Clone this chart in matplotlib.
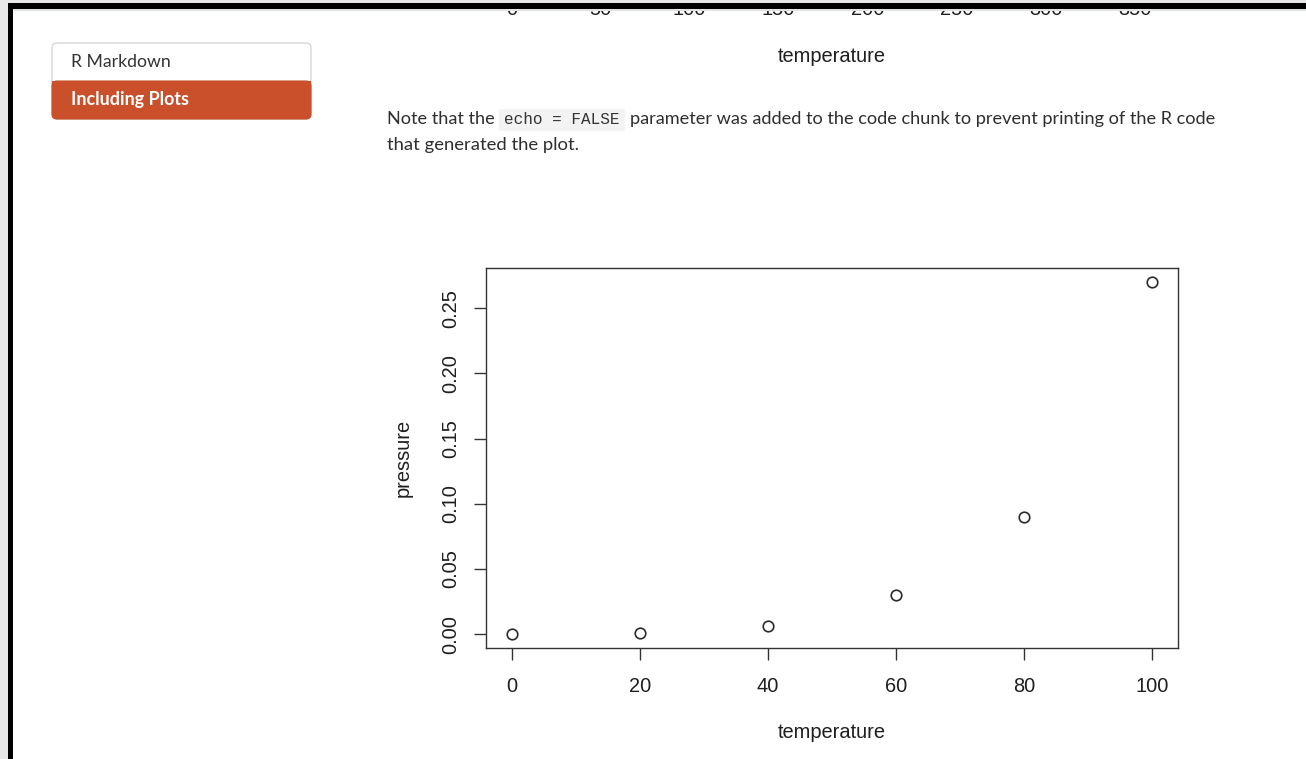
import matplotlib
matplotlib.use('Agg')
import matplotlib.pyplot as plt
import matplotlib.transforms as mtransforms
from matplotlib.patches import Rectangle, FancyBboxPatch

# R "pressure" data, subset temperature <= 100
temperature = [0, 20, 40, 60, 80, 100]
pressure = [0.0002, 0.0012, 0.0060, 0.0300, 0.0900, 0.2700]

# previous (full) plot, only its x tick labels show at the top
temperature_full = [0, 20, 40, 60, 80, 100, 120, 140, 160, 180, 200, 220, 240,
                    260, 280, 300, 320, 340, 360]
top_ticks = [0, 50, 100, 150, 200, 250, 300, 350]
y_ticks = [0.00, 0.05, 0.10, 0.15, 0.20, 0.25]

W, H = 1306, 759
fig = plt.figure(figsize=(W / 100, H / 100), dpi=100)
fig.patch.set_facecolor('white')
renderer = fig.canvas.get_renderer()

# pixel coords measured from the top-left corner
px = mtransforms.Affine2D().scale(1.0 / W, -1.0 / H).translate(0, 1) + fig.transFigure

RFONT = ['Liberation Sans', 'DejaVu Sans']
PAGEFONT = ['Lato', 'DejaVu Sans']
INK = '#1e1e1e'


def rrange(v):
    lo, hi = min(v), max(v)
    d = (hi - lo) * 0.04
    return lo - d, hi + d


def style_axes(ax):
    for s in ax.spines.values():
        s.set_color('#333333')
        s.set_linewidth(1.0)
    ax.tick_params(direction='out', length=8.6, width=1.0, color='#333333',
                   labelsize=14.4, labelcolor=INK, pad=12)
    for lab in ax.get_xticklabels() + ax.get_yticklabels():
        lab.set_family(RFONT)


left, width = 486 / W, 692 / W

# main plot
ax = fig.add_axes([left, (H - 648) / H, width, 380 / H])
ax.plot(temperature, pressure, 'o', mfc='none', mec='#2a2a2a', mew=1.2, ms=7.6)
ax.set_xlim(*rrange(temperature))
ax.set_ylim(*rrange(pressure))
ax.set_xticks([0, 20, 40, 60, 80, 100])
ax.set_yticks(y_ticks)
ax.set_yticklabels(['%.2f' % v for v in y_ticks])
style_axes(ax)
ax.tick_params(axis='y', pad=10)
plt.setp(ax.get_yticklabels(), rotation=90, va='center')
ax.set_xlabel('temperature', fontsize=14.4, family=RFONT, color=INK)
ax.xaxis.label.set_va('center')
ax.xaxis.set_label_coords(0.5, -(733 - 648) / 380)
ax.set_ylabel('pressure', fontsize=14.4, family=RFONT, color=INK)
ax.yaxis.label.set_va('center')
ax.yaxis.set_label_coords(-(486 - 403) / 692, 0.5)

# the earlier plot, scrolled almost out of view
axt = fig.add_axes([left, (H + 29) / H, width, 380 / H])
axt.set_xlim(*rrange(temperature_full))
axt.set_xticks(top_ticks)
axt.set_yticks([])
style_axes(axt)
axt.set_xlabel('temperature', fontsize=14.4, family=RFONT, color=INK)
axt.xaxis.label.set_va('center')
axt.xaxis.set_label_coords(0.5, -86 / 380)

# page frame
fig.add_artist(Rectangle((0, 0), 8, H, transform=px, color='#e8e8e8', lw=0, zorder=5))
fig.add_artist(Rectangle((0, 0), W, 3, transform=px, color='#e8e8e8', lw=0, zorder=5))
fig.add_artist(Rectangle((8, 3), W, 6, transform=px, color='black', lw=0, zorder=6))
fig.add_artist(Rectangle((8, 3), 5, H, transform=px, color='black', lw=0, zorder=6))
fig.add_artist(Rectangle((13, 9), W, 2, transform=px, color='#dfe3e3', lw=0, zorder=5))

# sidebar
fig.add_artist(FancyBboxPatch((52, 43), 259, 76, boxstyle='round,pad=0,rounding_size=5',
                              transform=px, fc='white', ec='#d6d6d6', lw=1.0, zorder=2))
fig.add_artist(FancyBboxPatch((52, 81), 259, 38, boxstyle='round,pad=0,rounding_size=5',
                              transform=px, fc='#c9502a', ec='#c9502a', lw=0.8, zorder=3))
fig.add_artist(Rectangle((52, 81), 259, 8, transform=px, fc='#c9502a', lw=0, zorder=3))


def put(x, y, s, w, **kw):
    t = fig.text(x, y, s, transform=px, ha='left', va='center', zorder=4, **kw)
    bb = t.get_window_extent(renderer)
    t.set_fontsize(t.get_fontsize() * w / bb.width)
    return t


put(71, 62, 'R Markdown', 99, family=PAGEFONT, color='#333333', fontsize=12)
put(71, 100, 'Including Plots', 117, family=PAGEFONT, color='white', fontsize=12,
    fontweight='bold')

# paragraph
fig.add_artist(FancyBboxPatch((499, 109), 126, 22, boxstyle='round,pad=0,rounding_size=3',
                              transform=px, fc='#f3f3f3', ec='none', zorder=3))
put(387, 119, 'Note that the', 107, family=PAGEFONT, color='#2e2e2e', fontsize=12)
put(504, 120, 'echo = FALSE', 116, family=['Liberation Mono', 'DejaVu Sans Mono'],
    color='#333333', fontsize=10)
put(630, 119, 'parameter was added to the code chunk to prevent printing of the R code',
    583, family=PAGEFONT, color='#2e2e2e', fontsize=12)
put(387, 145, 'that generated the plot.', 191, family=PAGEFONT, color='#2e2e2e', fontsize=12)

fig.savefig('out.png', dpi=100)
